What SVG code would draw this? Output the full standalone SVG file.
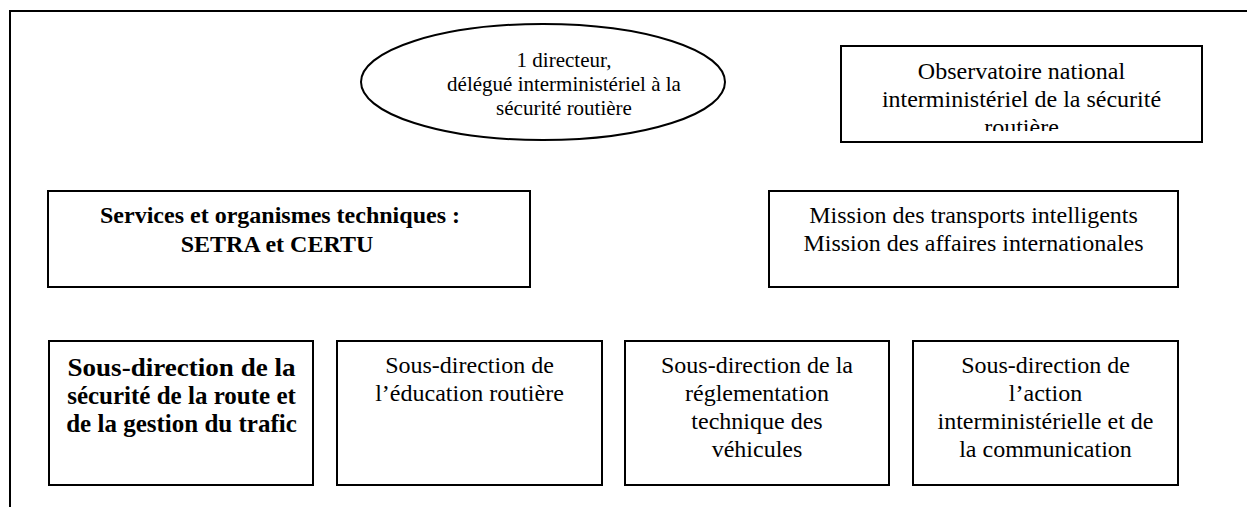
<svg xmlns="http://www.w3.org/2000/svg" width="1247" height="507" viewBox="0 0 1247 507">
  <style>
    .box { fill: #ffffff; stroke: #000000; stroke-width: 2; }
    .t { font-family: "Liberation Serif", "Times New Roman", serif; font-size: 24px; fill: #000000; text-anchor: middle; }
    .b { font-weight: bold; }
    .e { font-size: 21px; }
    .bb { font-size: 25px; }
  </style>
  <defs>
    <clipPath id="clipObs">
      <rect x="842" y="47" width="359" height="84"/>
    </clipPath>
  </defs>
  <rect x="0" y="0" width="1247" height="507" fill="#ffffff"/>
  <g id="frame">
    <path d="M10,507 V11 H1247" fill="none" stroke="#000000" stroke-width="2"/>
  </g>
  <g id="connectors"></g>
  <g id="directeur">
    <ellipse cx="543" cy="82" rx="182" ry="58" fill="#ffffff" stroke="#000000" stroke-width="2"/>
    <text class="t e" x="564" y="67">1 directeur,</text>
    <text class="t e" x="564" y="91">délégué interministériel à la</text>
    <text class="t e" x="564" y="115">sécurité routière</text>
  </g>
  <g id="observatoire">
    <rect class="box" x="841" y="46" width="361" height="96"/>
    <g clip-path="url(#clipObs)">
      <text class="t" x="1021.5" y="79">Observatoire national</text>
      <text class="t" x="1021.5" y="107">interministériel de la sécurité</text>
      <text class="t" x="1021.5" y="135">routière</text>
    </g>
  </g>
  <g id="services">
    <rect class="box" x="48" y="191" width="482" height="96"/>
    <text class="t b" x="280" y="223">Services et organismes techniques :</text>
    <text class="t b" x="277" y="252">SETRA et CERTU</text>
  </g>
  <g id="missions">
    <rect class="box" x="769" y="191" width="409" height="96"/>
    <text class="t" x="973.5" y="223">Mission des transports intelligents</text>
    <text class="t" x="973.5" y="251">Mission des affaires internationales</text>
  </g>
  <g id="sd-securite">
    <rect class="box" x="49" y="341" width="264" height="144"/>
    <text class="t b bb" x="181.5" y="376" textLength="228" lengthAdjust="spacingAndGlyphs">Sous-direction de la</text>
    <text class="t b bb" x="181.5" y="404">sécurité de la route et</text>
    <text class="t b bb" x="181.5" y="432">de la gestion du trafic</text>
  </g>
  <g id="sd-education">
    <rect class="box" x="337" y="341" width="265" height="144"/>
    <text class="t" x="469.5" y="373">Sous-direction de</text>
    <text class="t" x="469.5" y="401">l’éducation routière</text>
  </g>
  <g id="sd-reglementation">
    <rect class="box" x="625" y="341" width="264" height="144"/>
    <text class="t" x="757" y="373">Sous-direction de la</text>
    <text class="t" x="757" y="401">réglementation</text>
    <text class="t" x="757" y="429">technique des</text>
    <text class="t" x="757" y="457">véhicules</text>
  </g>
  <g id="sd-action">
    <rect class="box" x="913" y="341" width="265" height="144"/>
    <text class="t" x="1045.5" y="373">Sous-direction de</text>
    <text class="t" x="1045.5" y="401">l’action</text>
    <text class="t" x="1045.5" y="429">interministérielle et de</text>
    <text class="t" x="1045.5" y="457">la communication</text>
  </g>
</svg>
